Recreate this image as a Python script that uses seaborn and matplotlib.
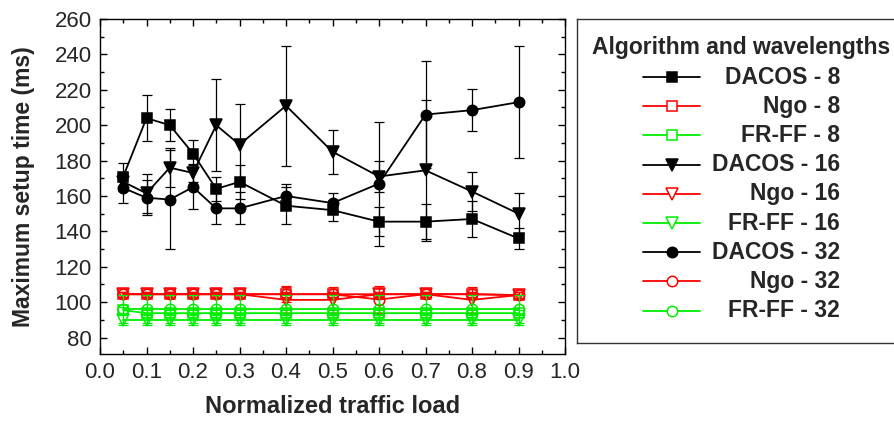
import numpy as np
import seaborn as sns
import matplotlib.pyplot as plt
from matplotlib.lines import Line2D
from matplotlib.ticker import MultipleLocator, FormatStrFormatter

# values
load = [0.05, 0.1, 0.15, 0.2, 0.25, 0.3, 0.4, 0.5, 0.6, 0.7, 0.8, 0.9]

dacos_8 = [171, 204, 200, 184, 164, 168, 154.5, 152, 145.5, 145.5, 147, 136]
dacos_8_err = [7.5, 13, 9, 7.5, 7, 9.5, 10.5, 6, 8, 10, 10, 6]
ngo_8 = [104.5, 104.5, 104.5, 104.5, 104.5, 104.5, 104.5, 104.5, 104.5, 104.5, 104.5, 104]
ngo_8_err = [1.5, 1.5, 1.5, 1.5, 1.5, 1.5, 4.5, 1.5, 1.5, 1.5, 1.5, 1.5]
frff_8 = [95.5, 93.8, 93.8, 93.8, 93.8, 93.8, 93.8, 93.8, 93.8, 93.8, 93.8, 93.8]
frff_8_err = [2, 2, 2, 2, 2, 2, 2, 2, 2, 2, 2, 2]

dacos_16 = [168, 161.5, 176, 173, 200, 189, 211, 185, 171, 174.5, 162.5, 150]
dacos_16_err = [5, 11, 11, 5, 26, 23, 34, 12.5, 9, 40, 11, 11.5]
ngo_16 = [104.5, 104.5, 104.5, 104.5, 104.5, 104.5, 101.3, 101.3, 104.5, 104.5, 101.3, 104]
ngo_16_err = [1.5, 1.5, 1.5, 1.5, 1.5, 1.5, 7.5, 7.5, 1.5, 1.5, 7.5, 1.5]
frff_16 = [90, 90, 90, 90, 90, 90, 90, 90, 90, 90, 90, 90]
frff_16_err = [3, 3, 3, 3, 3, 3, 3, 3, 3, 3, 3, 3]

dacos_32 = [164.5, 159, 158, 165, 153, 153, 160, 156, 167, 206, 208.5, 213]
dacos_32_err = [8.5, 10, 28, 12.5, 9, 9, 7, 5.5, 35, 30, 12, 31.5]
ngo_32 = [104.5, 104.5, 104.5, 104.5, 104.5, 104.5, 104.5, 104.5, 101.5, 104.5, 104.5, 104]
ngo_32_err = [1.5, 1.5, 1.5, 1.5, 1.5, 1.5, 1.5, 1.5, 7.5, 1.5, 1.5, 1.5]
frff_32 = [96, 96, 96, 96, 96, 96, 96, 96, 96, 96, 96, 96]
frff_32_err = [8, 8, 8, 8, 8, 8, 8, 8, 8, 8, 8, 8]

series = [
    ("DACOS - 8", dacos_8, dacos_8_err, "black", "s", True),
    ("Ngo - 8", ngo_8, ngo_8_err, "#ff0000", "s", False),
    ("FR-FF - 8", frff_8, frff_8_err, "#00ee00", "s", False),
    ("DACOS - 16", dacos_16, dacos_16_err, "black", "v", True),
    ("Ngo - 16", ngo_16, ngo_16_err, "#ff0000", "v", False),
    ("FR-FF - 16", frff_16, frff_16_err, "#00ee00", "v", False),
    ("DACOS - 32", dacos_32, dacos_32_err, "black", "o", True),
    ("Ngo - 32", ngo_32, ngo_32_err, "#ff0000", "o", False),
    ("FR-FF - 32", frff_32, frff_32_err, "#00ee00", "o", False),
]
msize = {"s": 7, "v": 8.5, "o": 7.5}

sns.set_theme(style="ticks")
plt.rcParams['font.family'] = ['Liberation Sans', 'DejaVu Sans']

fig = plt.figure(figsize=(8.94, 4.23), dpi=100)
ax = fig.add_axes([100 / 894, 1 - 353.5 / 423, 465 / 894, 334.5 / 423])

for name, vals, err, col, mk, filled in series:
    ax.errorbar(load, vals, yerr=err, fmt='none', ecolor=col, elinewidth=0.9,
                capsize=3.5, capthick=0.9)
    sns.lineplot(x=load, y=vals, ax=ax, color=col, marker=mk, markersize=msize[mk],
                 markerfacecolor=col if filled else 'none', markeredgecolor=col,
                 markeredgewidth=1.1, linewidth=1.3, legend=False)

ax.set_xlim(0, 1.0)
ax.set_ylim(71, 260)
ax.xaxis.set_major_locator(MultipleLocator(0.1))
ax.xaxis.set_minor_locator(MultipleLocator(0.05))
ax.xaxis.set_major_formatter(FormatStrFormatter('%.1f'))
ax.yaxis.set_major_locator(MultipleLocator(20))
ax.yaxis.set_minor_locator(MultipleLocator(10))
ax.tick_params(which='both', direction='in', top=True, right=True, width=1, color='black')
ax.tick_params(which='major', length=5, labelsize=16, pad=6)
ax.tick_params(which='minor', length=3)
for sp in ax.spines.values():
    sp.set_color('black')
    sp.set_linewidth(1)
ax.set_xlabel("Normalized traffic load", fontsize=17, fontweight='bold', labelpad=9)
ax.set_ylabel("Maximum setup time (ms)", fontsize=16.5, fontweight='bold', labelpad=14)

# legend box drawn on its own axes, in pixel units
lax = fig.add_axes([577 / 894, 1 - 343 / 423, 330 / 894, 324 / 423])
lax.set_xlim(577, 907)
lax.set_ylim(343, 19)
lax.set_xticks([])
lax.set_yticks([])
for sp in lax.spines.values():
    sp.set_color('#333333')
    sp.set_linewidth(1)
lax.text(741, 47, "Algorithm and wavelengths", ha='center', va='center',
         fontsize=16.5, fontweight='bold')
for i, (name, vals, err, col, mk, filled) in enumerate(series):
    yy = 77 + i * 29.2
    lax.add_line(Line2D([643, 671.5, 700], [yy, yy, yy], color=col, linewidth=1.3,
                        marker=mk, markevery=[1], markersize=msize[mk],
                        markerfacecolor=col if filled else 'white',
                        markeredgecolor=col, markeredgewidth=1.1))
    lax.text(840, yy, name, ha='right', va='center', fontsize=16.5, fontweight='bold')

fig.savefig("out.png", dpi=100)
